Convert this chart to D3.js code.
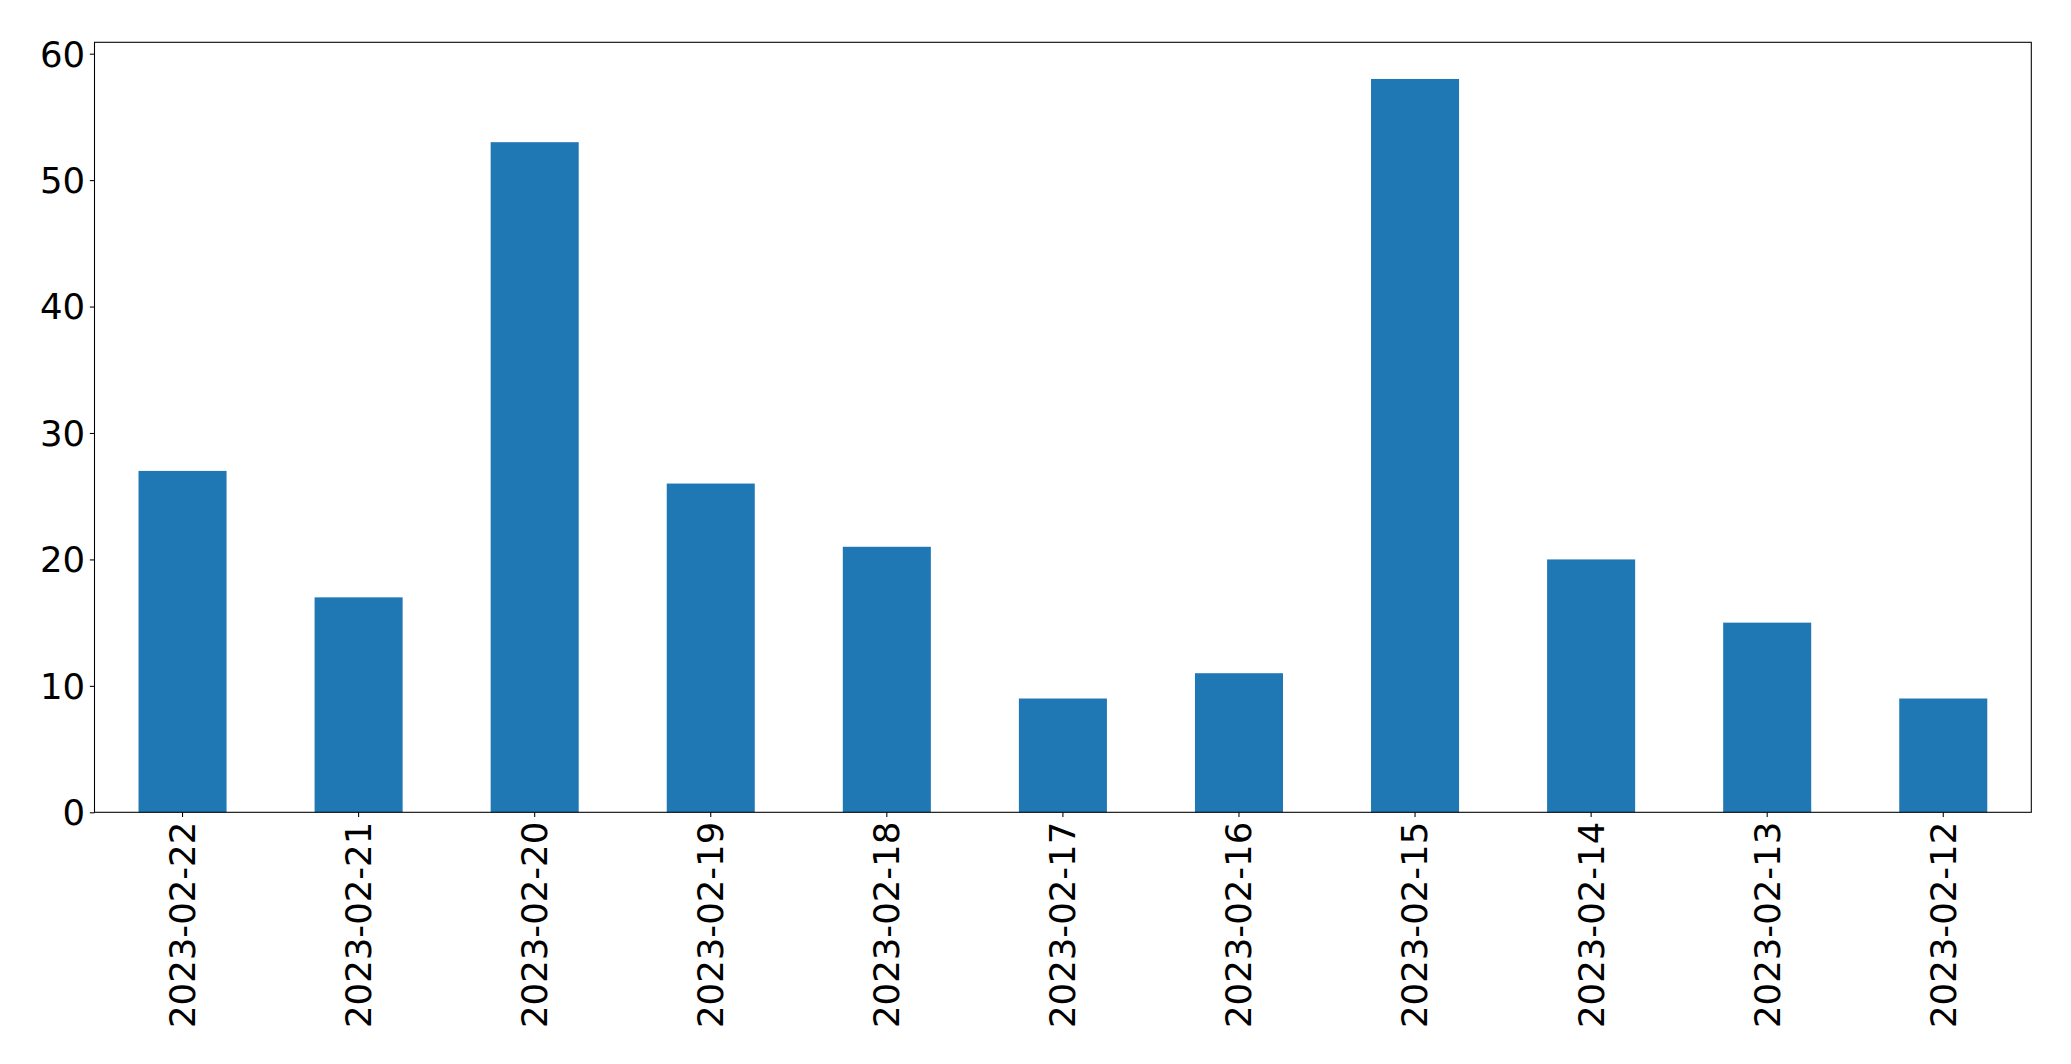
<!DOCTYPE html>
<html>
<head>
<meta charset="utf-8">
<script src="https://cdn.jsdelivr.net/npm/d3@7"></script>
<style>
  html, body { margin: 0; padding: 0; background: #fff; }
  svg { display: block; }
  text { font-family: "DejaVu Sans", sans-serif; fill: #000; }
</style>
</head>
<body>
<svg id="chart" width="2071" height="1064"></svg>
<script>
const categories = ["2023-02-22","2023-02-21","2023-02-20","2023-02-19","2023-02-18","2023-02-17","2023-02-16","2023-02-15","2023-02-14","2023-02-13","2023-02-12"];
const values = [27, 17, 53, 26, 21, 9, 11, 58, 20, 15, 9];
const yTicks = [0, 10, 20, 30, 40, 50, 60];

const W = 2071, H = 1064;
const m = { left: 94.5, right: W - 2031.3, top: 42.3, bottom: H - 812.3 };
const svg = d3.select("#chart");
const iw = W - m.left - m.right, ih = H - m.top - m.bottom;
const g = svg.append("g").attr("transform", `translate(${m.left},${m.top})`);

const x = d3.scaleBand().domain(categories).range([0, iw]).paddingInner(0.5).paddingOuter(0.25);
const y = d3.scaleLinear().domain([0, d3.max(values) * 1.05]).range([ih, 0]);

g.selectAll("rect.bar").data(values).enter().append("rect")
  .attr("class", "bar")
  .attr("x", (d, i) => x(categories[i]))
  .attr("width", x.bandwidth())
  .attr("y", d => y(d))
  .attr("height", d => y(0) - y(d))
  .attr("fill", "#1f77b4");

const fs = "35.5px";
const yAxis = g.append("g").call(d3.axisLeft(y).tickValues(yTicks).tickSize(4.7).tickPadding(4.7));
yAxis.select(".domain").remove();
yAxis.selectAll("text").style("font-size", fs).attr("dy", "0.35em");
yAxis.selectAll("line").attr("stroke", "#000").attr("stroke-width", 1.07);

const xAxis = g.append("g").attr("transform", `translate(0,${ih})`)
  .call(d3.axisBottom(x).tickSize(4.7).tickPadding(0));
xAxis.select(".domain").remove();
xAxis.selectAll("line").attr("stroke", "#000").attr("stroke-width", 1.07);
xAxis.selectAll("text")
  .style("font-size", fs)
  .attr("text-anchor", "end")
  .attr("transform", "translate(0,9.4) rotate(-90)")
  .attr("x", 0).attr("y", 0)
  .attr("dy", "0.35em");

g.append("rect").attr("x", 0).attr("y", 0).attr("width", iw).attr("height", ih)
  .attr("fill", "none").attr("stroke", "#000").attr("stroke-width", 1.07);
</script>
</body>
</html>
